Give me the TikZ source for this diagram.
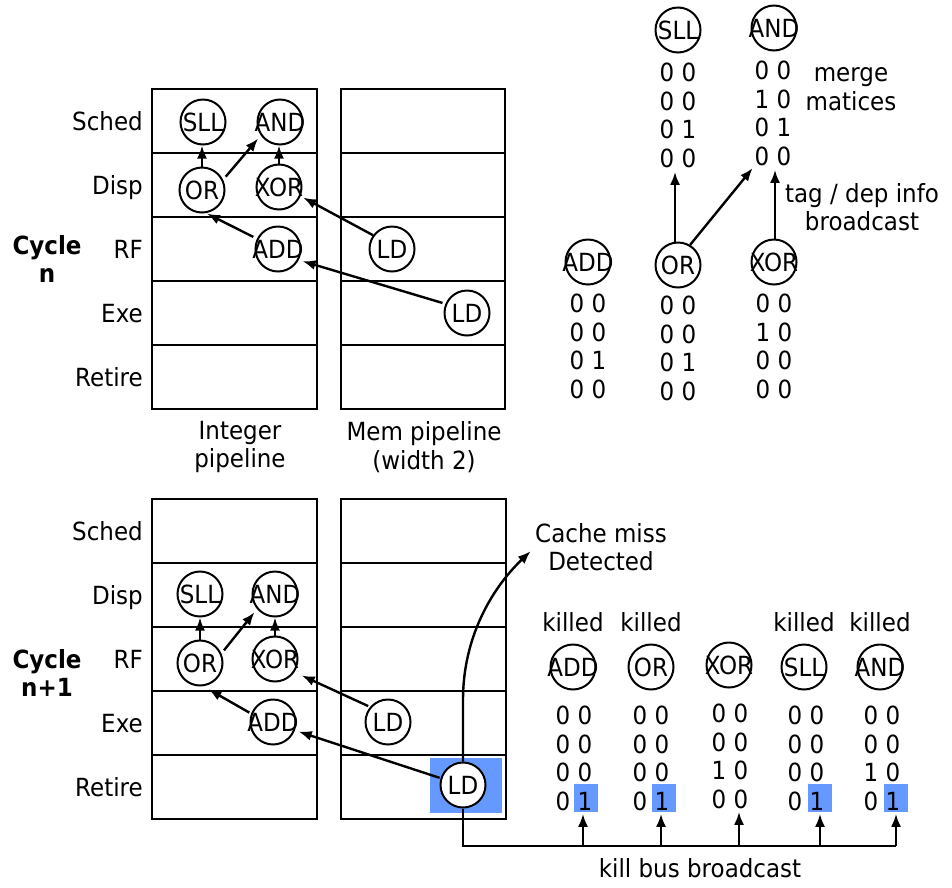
\documentclass[tikz,border=0pt]{standalone}
\usepackage{fontspec}
\setmainfont{DejaVu Sans}[FakeStretch=0.92]
\usetikzlibrary{arrows.meta}
\definecolor{hl}{RGB}{102,153,255}
\newcommand\opl[1]{\makebox[0pt]{#1}}
\newcommand\dfont{\fontsize{25}{28.5}\selectfont}
\begin{document}
\begin{tikzpicture}[x=1pt,y=-1pt,
 font=\dfont,
 op/.style={circle,draw,line width=2pt,minimum size=45pt,inner sep=0pt,fill=white},
 box/.style={draw,line width=2.2pt},
 arr/.style={line width=2.4pt,-{Latex[length=13pt,width=10pt]}},
 lbl/.style={anchor=east,inner sep=0pt,text height=18pt,text depth=0pt},
 mat/.style={align=center,inner sep=0pt,anchor=north},
 ttl/.style={align=center,inner sep=0pt},
 kil/.style={inner sep=0pt,text height=19pt,text depth=0pt},
]
\useasboundingbox (0,0) rectangle (952,887);

% highlights
\fill[hl] (430,758) rectangle (502,813);
\fill[hl] (574,784) rectangle (598,812);
\fill[hl] (652,784) rectangle (676,812);
\fill[hl] (808,784) rectangle (832,812);
\fill[hl] (884,784) rectangle (908,812);

% top pipelines
\draw[box] (152,89) rectangle (317,409);
\draw[box] (341,89) rectangle (505,409);
\foreach \y in {153,217,281,345}{
  \draw[box] (152,\y) -- (317,\y);
  \draw[box] (341,\y) -- (505,\y);
}
% bottom pipelines
\draw[box] (152,499) rectangle (317,819);
\draw[box] (341,499) rectangle (506,819);
\foreach \y in {563,627,691,755}{
  \draw[box] (152,\y) -- (317,\y);
  \draw[box] (341,\y) -- (506,\y);
}

% stage labels
\node[lbl] (ts1) at (143,121) {Sched};
\node[lbl] (ts2) at (143,185) {Disp};
\node[lbl] (ts3) at (143,249) {RF};
\node[lbl] (ts4) at (143,313) {Exe};
\node[lbl] (ts5) at (143,377) {Retire};
\node[lbl] (bs1) at (143,531) {Sched};
\node[lbl] (bs2) at (143,595) {Disp};
\node[lbl] (bs3) at (143,659) {RF};
\node[lbl] (bs4) at (143,723) {Exe};
\node[lbl] (bs5) at (143,787) {Retire};
\node[ttl,font=\dfont\bfseries] (cyc1) at (47,259) {Cycle\\n};
\node[ttl,font=\dfont\bfseries] (cyc2) at (47,673) {Cycle\\n+1};
\node[ttl] (intp) at (240,447) {Integer\\pipeline};
\node[ttl] (memp) at (424,447) {Mem pipeline\\(width 2)};

% top pipeline ops
\node[op] (tSLL) at (203,122) {\opl{SLL}};
\node[op] (tAND) at (280,122) {\opl{AND}};
\node[op] (tOR) at (202,190) {\opl{OR}};
\node[op] (tXOR) at (279,187) {\opl{XOR}};
\node[op] (tADD) at (278,249) {\opl{ADD}};
\node[op] (tLDa) at (392,249) {\opl{LD}};
\node[op] (tLDb) at (467,313) {\opl{LD}};
\draw[arr] (tOR.north) -- (tOR.north |- tSLL.south);
\draw[arr] (tXOR.north) -- (tXOR.north |- tAND.south);
\draw[arr,shorten >=4pt,shorten <=4pt] (tOR.26) -- (tAND.215);
\draw[arr,shorten >=1pt,shorten <=4pt] (tADD.154) -- (tOR.-80);
\draw[arr,shorten >=3pt] (tLDa.144) -- (tXOR.-23);
\draw[arr,shorten >=4pt,shorten <=3pt] (tLDb.157) -- (tADD.-28);

% top-right matrices
\node[op] (rSLL) at (678,30) {\opl{SLL}};
\node[op] (rAND) at (774,28) {\opl{AND}};
\node[mat] (mSLL) at (678,63) {0 0\\0 0\\0 1\\0 0};
\node[mat] (mAND) at (773,61) {0 0\\1 0\\0 1\\0 0};
\node[op] (rADD) at (588,262) {\opl{ADD}};
\node[op] (rOR) at (678,265) {\opl{OR}};
\node[op] (rXOR) at (774,262) {\opl{XOR}};
\node[mat] (mADD) at (588,294) {0 0\\0 0\\0 1\\0 0};
\node[mat] (mOR) at (678,296) {0 0\\0 0\\0 1\\0 0};
\node[mat] (mXOR) at (774,294) {0 0\\1 0\\0 0\\0 0};
\draw[arr,shorten >=4pt] ([xshift=-3pt]rOR.north) -- ([xshift=-3pt]rOR.north |- mSLL.south);
\draw[arr,shorten >=3pt] (rOR.59) -- (mAND.south west);
\draw[arr,shorten >=4pt] ([xshift=1pt]rXOR.north) -- ([xshift=1pt]rXOR.north |- mAND.south);
\node[ttl] (merge) at (851,89) {merge\\matices};
\node[ttl] (tag) at (862,207) {tag / dep info\\broadcast};

% bottom pipeline ops
\node[op] (bSLL) at (200,594) {\opl{SLL}};
\node[op] (bAND) at (275,594) {\opl{AND}};
\node[op] (bOR) at (200,663) {\opl{OR}};
\node[op] (bXOR) at (275,659) {\opl{XOR}};
\node[op] (bADD) at (273,722) {\opl{ADD}};
\node[op] (bLDa) at (388,722) {\opl{LD}};
\node[op] (bLDb) at (463,785) {\opl{LD}};
\draw[arr] (bOR.north) -- (bOR.north |- bSLL.south);
\draw[arr] (bXOR.north) -- (bXOR.north |- bAND.south);
\draw[arr,shorten >=4pt,shorten <=4pt] (bOR.24) -- (bAND.220);
\draw[arr,shorten >=6pt,shorten <=2pt] (bADD.159) -- (bOR.-82);
\draw[arr,shorten >=8pt,shorten <=2pt] (bLDa.140) -- (bXOR.-34);
\draw[arr,shorten >=4pt,shorten <=1pt] (bLDb.163) -- (bADD.-21);

% cache miss
\node[ttl] (cache) at (601,547) {Cache miss\\Detected};
\draw[arr,shorten >=6pt] (bLDb.north) -- ++(0,-62) .. controls +(0,-60) and (490,590) .. (cache.west);

% killed ops
\node[kil] (k1) at (573,622) {killed};
\node[kil] (k2) at (651,622) {killed};
\node[kil] (k4) at (804,622) {killed};
\node[kil] (k5) at (880,622) {killed};
\node[op] (kADD) at (573,667) {\opl{ADD}};
\node[op] (kOR) at (651,667) {\opl{OR}};
\node[op] (kXOR) at (729,665) {\opl{XOR}};
\node[op] (kSLL) at (804,667) {\opl{SLL}};
\node[op] (kAND) at (880,667) {\opl{AND}};
\node[mat] (nADD) at (574,706) {0 0\\0 0\\0 0\\0 1};
\node[mat] (nOR) at (651,706) {0 0\\0 0\\0 0\\0 1};
\node[mat] (nXOR) at (730,704) {0 0\\0 0\\1 0\\0 0};
\node[mat] (nSLL) at (806,706) {0 0\\0 0\\0 0\\0 1};
\node[mat] (nAND) at (882,706) {0 0\\0 0\\1 0\\0 1};

% kill bus
\coordinate (bA) at (583,846);
\coordinate (bB) at (661,846);
\coordinate (bC) at (739,846);
\coordinate (bD) at (820,846);
\coordinate (bE) at (896,846);
\draw[line width=2.4pt] (bLDb.south) |- (bE);
\draw[arr,shorten >=3pt] (bA) -- (bA |- nADD.south);
\draw[arr,shorten >=3pt] (bB) -- (bB |- nOR.south);
\draw[arr,shorten >=3pt] (bC) -- (bC |- nXOR.south);
\draw[arr,shorten >=3pt] (bD) -- (bD |- nSLL.south);
\draw[arr,shorten >=3pt] (bE) -- (bE |- nAND.south);
\node[ttl] (kbb) at (700,868) {kill bus broadcast};
\end{tikzpicture}
\end{document}
